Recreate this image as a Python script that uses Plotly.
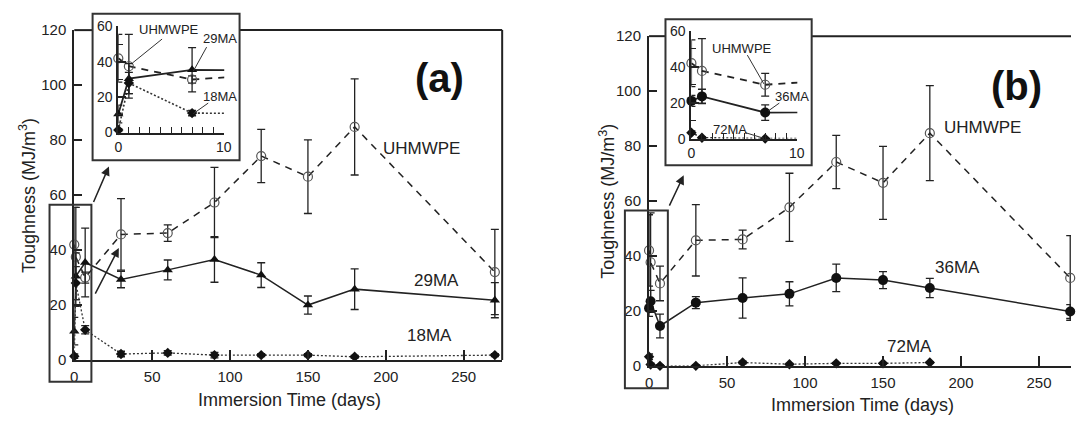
import plotly.graph_objects as go

# ---------------- data ----------------
days = [0, 1, 7, 30, 60, 90, 120, 150, 180, 270]

uhmwpe_a = [42, 37.5, 30, 45.7, 46.2, 57.3, 74.2, 66.7, 84.8, 32]
uhmwpe_a_err = [13.5, 18, 2, 13, 3, 12.8, 9.7, 13.4, 17.5, 15.5]
ma29 = [10.5, 30.5, 35.5, 29.3, 32.8, 36.6, 30.9, 20, 25.8, 21.8]
ma29_err = [5, 8.5, 12.5, 3, 3.6, 8.3, 4.5, 3.3, 7.4, 6.4]
ma18 = [1.4, 28, 11, 2.2, 2.6, 1.8, 1.8, 1.8, 1.2, 1.8]
ma18_err = [0.8, 6, 1.5, 1, 0.8, 1, 0.5, 0.5, 0.5, 0.5]

uhmwpe_b = [42, 37.7, 30, 45.7, 46, 57.7, 74.2, 66.6, 84.7, 32]
uhmwpe_b_err = [13, 18, 6.3, 13, 3.4, 12.4, 9.7, 13.3, 17.3, 15.4]
ma36 = [21, 23.5, 14.5, 23, 24.7, 26.2, 32, 31.2, 28.3, 19.8]
ma36_err = [3, 4, 4.3, 2.2, 7.3, 4.4, 5, 3.1, 3.5, 2.5]
ma72 = [3.3, 0.5, 0, 0, 1.2, 0.6, 0.9, 0.9, 1.2, None]
ma72_err = [1, 0.5, 0.3, 0.3, 0.5, 0.3, 0.3, 0.3, 0.3, None]

x_ticks = [0, 50, 100, 150, 200, 250]
y_ticks = [0, 20, 40, 60, 80, 100, 120]
inset_x_ticks = [0, 10]
inset_y_ticks = [0, 20, 40, 60]

# ---------------- layout helpers ----------------
W, H = 1078, 425
FONT = "Liberation Sans, Arial, sans-serif"
INK = "#222"


def px(x):
    return x / W


def py(y):
    return 1 - y / H


fig = go.Figure()

STY = {
    "uhmwpe": dict(marker=dict(symbol="circle-open", size=9, color="#555", line=dict(width=1.2)),
                   line=dict(color=INK, width=1.5, dash="7px,6px")),
    "tri": dict(marker=dict(symbol="triangle-up", size=9, color="#111"),
                line=dict(color=INK, width=1.5)),
    "dia": dict(marker=dict(symbol="diamond", size=8, color="#111"),
                line=dict(color="#333", width=1.3, dash="2px,2px")),
    "dot": dict(marker=dict(symbol="circle", size=10, color="#111"),
                line=dict(color=INK, width=1.5)),
}


def err(arr):
    return dict(type="data", array=arr, visible=True, color=INK, thickness=1.3, width=4)


def main_series(ys, es, sty, xa, ya):
    fig.add_trace(go.Scatter(x=days, y=ys, error_y=err(es), mode="lines+markers",
                             marker=STY[sty]["marker"], line=STY[sty]["line"],
                             xaxis=xa, yaxis=ya, cliponaxis=False, showlegend=False,
                             connectgaps=False))


def inset_series(ys, es, sty, xa, ya, xmax=10):
    line = dict(STY[sty]["line"])
    line["width"] = line["width"] + 0.3
    fig.add_trace(go.Scatter(x=days, y=ys, mode="lines", line=line,
                             xaxis=xa, yaxis=ya, showlegend=False))
    xs = [d for d in days if d <= xmax]
    n = len(xs)
    fig.add_trace(go.Scatter(x=xs, y=ys[:n], error_y=err(es[:n]), mode="markers",
                             marker=STY[sty]["marker"], xaxis=xa, yaxis=ya,
                             cliponaxis=False, showlegend=False))


# panel (a)
main_series(uhmwpe_a, uhmwpe_a_err, "uhmwpe", "x", "y")
main_series(ma29, ma29_err, "tri", "x", "y")
main_series(ma18, ma18_err, "dia", "x", "y")
inset_series(uhmwpe_a, uhmwpe_a_err, "uhmwpe", "x2", "y2")
inset_series(ma29, ma29_err, "tri", "x2", "y2")
inset_series(ma18, ma18_err, "dia", "x2", "y2")
# panel (b)
main_series(uhmwpe_b, uhmwpe_b_err, "uhmwpe", "x3", "y3")
main_series(ma36, ma36_err, "dot", "x3", "y3")
main_series(ma72, ma72_err, "dia", "x3", "y3")
inset_series(uhmwpe_b, uhmwpe_b_err, "uhmwpe", "x4", "y4")
inset_series(ma36, ma36_err, "dot", "x4", "y4")
inset_series(ma72, ma72_err, "dia", "x4", "y4")

tickfont = dict(family=FONT, size=15, color=INK)


def main_x(dom, rng, anchor):
    return dict(domain=dom, range=rng, anchor=anchor, showline=True, linecolor=INK, linewidth=2,
                ticks="inside", ticklen=10, tickwidth=1.5, tickcolor=INK, tickvals=x_ticks,
                showgrid=False, zeroline=False, tickfont=tickfont, ticklabelstandoff=2)


def main_y(dom, anchor):
    return dict(domain=dom, range=[0, 120], anchor=anchor, showline=True, linecolor=INK, linewidth=2,
                ticks="inside", ticklen=8, tickwidth=1.5, tickcolor=INK, tickvals=y_ticks,
                showgrid=False, zeroline=False, tickfont=tickfont, ticklabelstandoff=3)


def inset_x(dom, anchor):
    return dict(domain=dom, range=[0, 10.05], anchor=anchor, showline=True, linecolor=INK, linewidth=2,
                ticks="inside", ticklen=8, tickwidth=1.5, tickcolor=INK, tickvals=inset_x_ticks,
                minor=dict(dtick=1, ticks="inside", ticklen=6, tickwidth=1.3, tickcolor=INK),
                showgrid=False, zeroline=False, tickfont=dict(family=FONT, size=14, color=INK),
                ticklabelstandoff=1)


def inset_y(dom, anchor):
    return dict(domain=dom, range=[0, 60], anchor=anchor, showline=True, linecolor=INK, linewidth=2,
                ticks="inside", ticklen=8, tickwidth=1.5, tickcolor=INK, tickvals=inset_y_ticks,
                minor=dict(dtick=10, ticks="inside", ticklen=5, tickwidth=1.3, tickcolor=INK),
                showgrid=False, zeroline=False, tickfont=dict(family=FONT, size=14, color=INK),
                ticklabelstandoff=1)


layout = dict(
    width=W, height=H, margin=dict(l=0, r=0, t=0, b=0),
    paper_bgcolor="white", plot_bgcolor="rgba(0,0,0,0)",
    font=dict(family=FONT, color=INK),
    xaxis=main_x([px(71), px(503.3)], [0, 274.7], "y"),
    yaxis=main_y([py(365.7), py(22)], "x"),
    xaxis2=inset_x([px(115.5), px(222.5)], "y2"),
    yaxis2=inset_y([py(128.7), py(18.2)], "x2"),
    xaxis3=main_x([px(651.7), 1.0], [0, 270.5], "y3"),
    yaxis3=main_y([py(371.7), py(28.3)], "x3"),
    xaxis4=inset_x([px(694.5), px(801.5)], "y4"),
    yaxis4=inset_y([py(135), py(22.8)], "x4"),
)
fig.update_layout(**layout)


def line(x0, y0, x1, y1, w=2, color=INK):
    fig.add_shape(type="line", xref="paper", yref="paper", x0=px(x0), y0=py(y0),
                  x1=px(x1), y1=py(y1), line=dict(color=color, width=w), layer="above")


def rect(x0, y0, x1, y1, w=2):
    fig.add_shape(type="rect", xref="paper", yref="paper", x0=px(x0), y0=py(y0),
                  x1=px(x1), y1=py(y1), line=dict(color="#333", width=w), layer="above")


# frame pieces of main panels
line(71, 22, 89.5, 22)
line(238, 22, 503.3, 22)
line(503.3, 22, 503.3, 365.7)
line(651.7, 28.3, 668.3, 28.3)
line(816, 28.3, 1078, 28.3)
# inset frames and zoom boxes
rect(89.5, 5, 238, 157.5)
rect(668.3, 10.7, 816, 162.7)
rect(46, 204, 88.3, 388.3)
rect(627.3, 210, 670.7, 395)
# leader lines in insets
for seg in [(159.7, 31.3, 129.7, 56.3), (204.7, 39.7, 191.3, 64.7), (206.3, 98, 191.3, 109),
            (751, 48, 767.7, 78), (783.3, 98, 772, 106.3), (748.7, 128.7, 767.7, 134.7)]:
    line(*seg, w=1, color="#333")


def label(text, x, y, size=17, bold=False, angle=0):
    fig.add_annotation(text=f"<b>{text}</b>" if bold else text, x=px(x), y=py(y),
                       xref="paper", yref="paper", showarrow=False, textangle=angle,
                       xanchor="center", yanchor="middle",
                       font=dict(family=FONT, size=size, color="#111" if bold else INK))


def arrow(hx, hy, tx, ty):
    fig.add_annotation(text="", x=px(hx), y=py(hy), xref="paper", yref="paper",
                       ax=tx - hx, ay=ty - hy, showarrow=True, arrowhead=2, arrowsize=1.2,
                       arrowwidth=1.5, arrowcolor=INK, standoff=0)


label("UHMWPE", 422, 145)
label("29MA", 437, 283)
label("18MA", 430, 340)
label("(a)", 440, 72, size=40, bold=True)
label("UHMWPE", 989, 123)
label("36MA", 963, 269)
label("72MA", 915, 352)
label("(b)", 1023, 80, size=40, bold=True)

label("UHMWPE", 167, 21, size=13)
label("29MA", 218, 31, size=13)
label("18MA", 218, 91, size=13)
label("UHMWPE", 746, 41, size=13)
label("36MA", 796, 91, size=13)
label("72MA", 733, 125, size=13)

label("Toughness (MJ/m<sup>3</sup>)", 24, 194, size=18, angle=-90)
label("Immersion Time (days)", 288, 407, size=18)
label("Toughness (MJ/m<sup>3</sup>)", 609, 200, size=18, angle=-90)
label("Immersion Time (days)", 867, 412, size=18)

arrow(106, 164, 90, 201)
arrow(116, 249, 91.7, 296)
arrow(686.7, 173.3, 671.7, 205)

fig.write_html("out.html", config={"displayModeBar": False},
               post_script="document.body.style.margin='0';document.body.style.overflow='hidden';")
